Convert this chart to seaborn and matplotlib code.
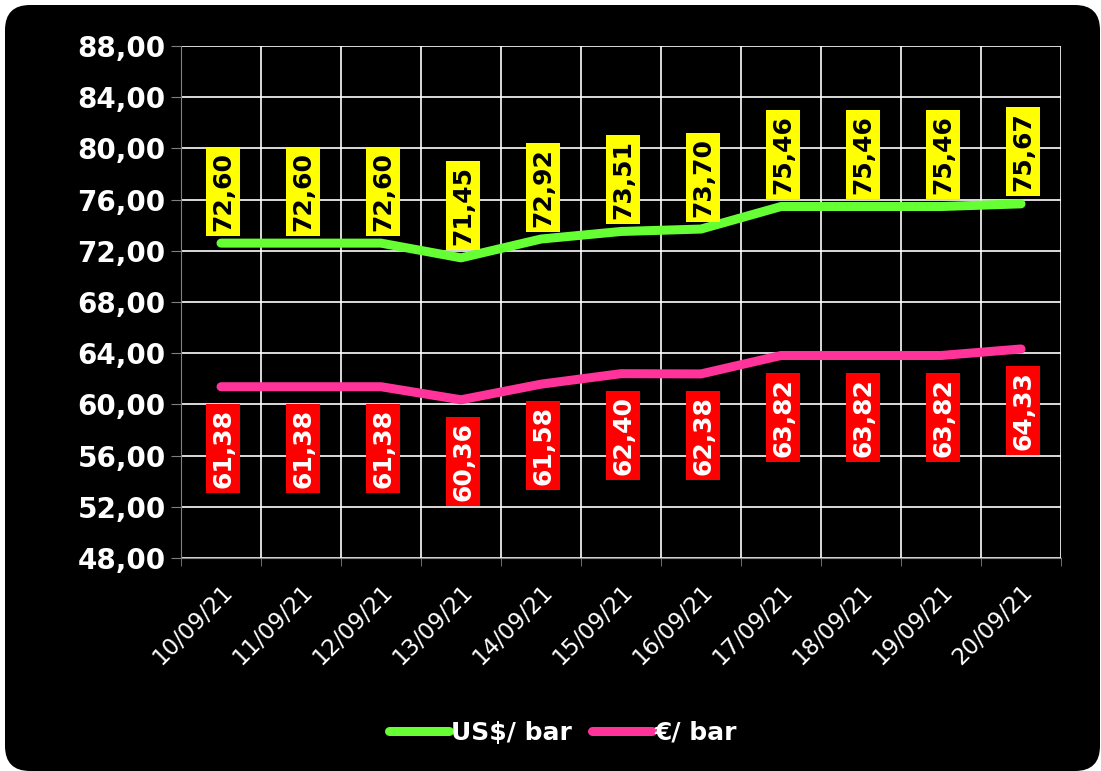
import numpy as np
import pandas as pd
import matplotlib
matplotlib.use('Agg')
import matplotlib.pyplot as plt
import matplotlib.transforms as mtransforms
from matplotlib.patches import FancyBboxPatch
from matplotlib.lines import Line2D
import seaborn as sns

# ---- data ----
dates = ['10/09/21', '11/09/21', '12/09/21', '13/09/21', '14/09/21', '15/09/21',
         '16/09/21', '17/09/21', '18/09/21', '19/09/21', '20/09/21']
usd_bar = [72.60, 72.60, 72.60, 71.45, 72.92, 73.51, 73.70, 75.46, 75.46, 75.46, 75.67]
eur_bar = [61.38, 61.38, 61.38, 60.36, 61.58, 62.40, 62.38, 63.82, 63.82, 63.82, 64.33]
series_names = ['US$/ bar', '€/ bar']
y_ticks = [48, 52, 56, 60, 64, 68, 72, 76, 80, 84, 88]

line_colors = {'US$/ bar': '#66FF33', '€/ bar': '#FF3399'}

df = pd.DataFrame({
    'pos': list(range(len(dates))) * 2,
    'value': usd_bar + eur_bar,
    'series': [series_names[0]] * len(dates) + [series_names[1]] * len(dates),
})

# ---- figure + black rounded panel ----
fig = plt.figure(figsize=(11.01, 7.71), dpi=100)
fig.patch.set_facecolor('white')
panel = FancyBboxPatch((5, 0), 1095, 766, boxstyle='round,pad=0,rounding_size=25',
                       transform=None, facecolor='black', edgecolor='none', zorder=-10)
fig.add_artist(panel)

ax = fig.add_axes([0.1644, 0.2763, 0.7993, 0.664])
ax.set_facecolor('black')

sns.lineplot(data=df, x='pos', y='value', hue='series', palette=line_colors,
             linewidth=6.5, legend=False, ax=ax, zorder=3)
for ln in ax.lines:
    ln.set_solid_capstyle('round')
    ln.set_solid_joinstyle('round')

# ---- value labels ----
lab_font = dict(fontsize=18, fontweight='bold')
for i, v in enumerate(usd_bar):
    ax.annotate(f'{v:.2f}'.replace('.', ','), xy=(i, v), xytext=(1.5, 9), textcoords='offset points',
                rotation=90, ha='center', va='bottom', color='black',
                bbox=dict(boxstyle='square,pad=0.2', fc='#FFFF00', ec='none'), zorder=5, **lab_font)
for i, v in enumerate(eur_bar):
    ax.annotate(f'{v:.2f}'.replace('.', ','), xy=(i, v), xytext=(1.5, -16), textcoords='offset points',
                rotation=90, ha='center', va='top', color='white',
                bbox=dict(boxstyle='square,pad=0.2', fc='#FF0000', ec='none'), zorder=5, **lab_font)

# ---- axes ----
ax.set_xlim(-0.5, len(dates) - 0.5)
ax.set_ylim(48, 88)
ax.set_yticks(y_ticks)
ax.set_yticklabels([f'{t:.2f}'.replace('.', ',') for t in y_ticks],
                   fontsize=20, fontweight='bold', color='white')
ax.set_xticks(range(len(dates)))
ax.set_xticklabels(dates, rotation=45, ha='right', va='top', rotation_mode='anchor',
                   fontsize=16.5, color='white')
offset = mtransforms.ScaledTranslation(3 / 72, 0, fig.dpi_scale_trans)
for lab in ax.get_xticklabels():
    lab.set_transform(lab.get_transform() + offset)
ax.set_xticks(np.arange(-0.5, len(dates)), minor=True)
ax.tick_params(axis='x', which='major', length=0, pad=16)
ax.tick_params(axis='x', which='minor', length=6, color='#808080', direction='out')
ax.tick_params(axis='y', which='major', length=7, color='#808080', direction='out', pad=4)
ax.grid(True, axis='y', which='major', color='white', linewidth=1.2)
ax.grid(True, axis='x', which='minor', color='white', linewidth=1.2)
ax.set_axisbelow(True)
ax.set_xlabel('')
ax.set_ylabel('')
for side in ['top', 'right']:
    ax.spines[side].set_visible(False)
ax.spines['bottom'].set_color('#808080')
ax.spines['left'].set_color('#808080')

# ---- legend ----
handles = [Line2D([0], [0], color=line_colors[n], linewidth=6.5, solid_capstyle='round')
           for n in series_names]
fig.legend(handles, series_names, loc='center', bbox_to_anchor=(563 / 1101, 1 - 733 / 771),
           ncol=2, frameon=False, labelcolor='white',
           prop={'weight': 'bold', 'size': 18}, handlelength=2.4, handletextpad=0.1,
           columnspacing=0.8)

fig.savefig('out.png', dpi=100, facecolor='white')
